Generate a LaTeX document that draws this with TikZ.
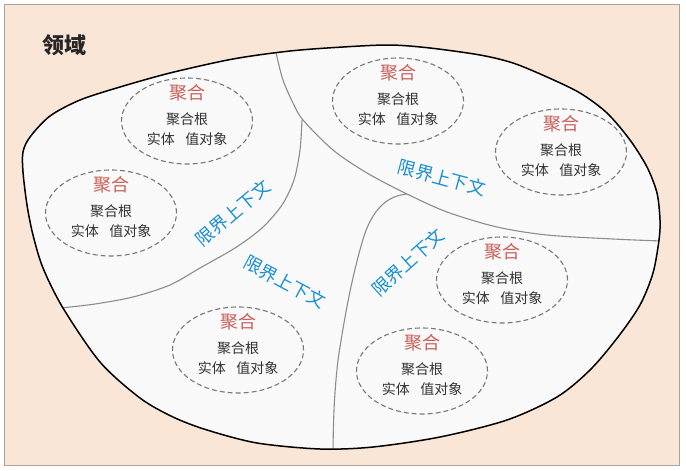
\documentclass[tikz,border=0pt]{standalone}
\usepackage{fontspec}
\setmainfont{Noto Sans CJK SC}
\usetikzlibrary{shapes.geometric}
\definecolor{peach}{HTML}{F9E6D6}
\definecolor{framecol}{HTML}{ADA298}
\definecolor{blobfill}{HTML}{F9F9F9}
\definecolor{sepcol}{HTML}{8C8C8C}
\definecolor{dashcol}{HTML}{787878}
\definecolor{aggred}{HTML}{C9605A}
\definecolor{bcblue}{HTML}{1A8FD0}
\definecolor{txtcol}{HTML}{333333}
\newcommand\blobshape{plot[smooth cycle, tension=0.5] coordinates {
 (33,235) (27,205) (23,172) (23,152) (30,137) (50,116) (80,100) (120,87)
 (170,73) (233,59) (290,51) (343,47) (390,45) (430,48) (480,55) (513,63)
 (547,77) (580,93) (607,113) (630,140) (647,167) (657,193) (660,220)
 (659,240) (653,273) (640,305) (618,337) (590,370) (557,397) (507,420)
 (440,437) (373,447) (320,449) (257,443) (207,430) (173,417) (140,398)
 (100,362) (63,308) (43,268)}}
\tikzset{
 sepline/.style={draw=sepcol, line width=1.1pt},
 aggell/.style={ellipse, draw=dashcol, line width=1.1pt, dash pattern=on 5pt off 3pt,
   minimum width=131pt, minimum height=86pt, inner sep=0pt},
 aggtitle/.style={text=aggred, font=\fontsize{18}{20}\selectfont, inner sep=0pt},
 aggtext/.style={text=txtcol, font=\fontsize{14}{16}\selectfont, inner sep=0pt},
 bclabel/.style={text=bcblue, font=\fontsize{18}{20}\selectfont, inner sep=0pt},
 domtitle/.style={text=black!85, font=\fontsize{22}{24}\selectfont\bfseries, inner sep=0pt}
}
\newcommand\aggregate[3]{%
 \node[aggell] (#1) at (#2,#3) {};
 \node[aggtitle] (#1t) at ([yshift=28pt]#1.center) {聚合};
 \node[aggtext] (#1r) at ([yshift=2pt]#1.center) {聚合根};
 \node[aggtext] (#1v) at ([yshift=-18pt]#1.center) {实体\hspace{0.75em}值对象};
}
\begin{document}
\begin{tikzpicture}[x=1pt,y=-1pt]
\useasboundingbox (0,0) rectangle (686,471);
\fill[white] (0,0) rectangle (686,471);
\draw[draw=framecol, fill=peach, line width=1pt] (4.5,4.5) rectangle (679.5,465.5);
\fill[blobfill] \blobshape;
\begin{scope}
 \clip \blobshape;
 \draw[sepline] plot[smooth, tension=0.5] coordinates {(275,35) (276,52) (283,80) (293,103) (303,120) (333,150) (367,173) (407,194) (447,212) (497,227) (547,235) (613,239) (662,241) (680,241)};
 \draw[sepline] plot[smooth, tension=0.5] coordinates {(302,120) (300,150) (294,180) (282,205) (262,228) (235,248) (200,268) (170,285) (133,297) (95,304) (60,308) (40,309)};
 \draw[sepline] (407,194) .. controls (385,196) and (372,212) .. (364,236)
   .. controls (352,275) and (344,320) .. (338,360)
   .. controls (334,395) and (333,425) .. (333,465);
\end{scope}
\draw[line width=1.5pt, black] \blobshape;
\node[domtitle] (dom) at (64,45) {领域};
\aggregate{a1}{187}{121}
\aggregate{a2}{111}{213}
\aggregate{a3}{238}{350}
\aggregate{a4}{398}{101}
\aggregate{a5}{561}{152}
\aggregate{a6}{502}{280}
\aggregate{a7}{422}{371}
\node[bclabel, rotate=40] (bc1) at (233,213) {限界上下文};
\node[bclabel, rotate=-28] (bc2) at (285,282) {限界上下文};
\node[bclabel, rotate=-15] (bc3) at (442,178) {限界上下文};
\node[bclabel, rotate=42] (bc4) at (408,262) {限界上下文};
\end{tikzpicture}
\end{document}
